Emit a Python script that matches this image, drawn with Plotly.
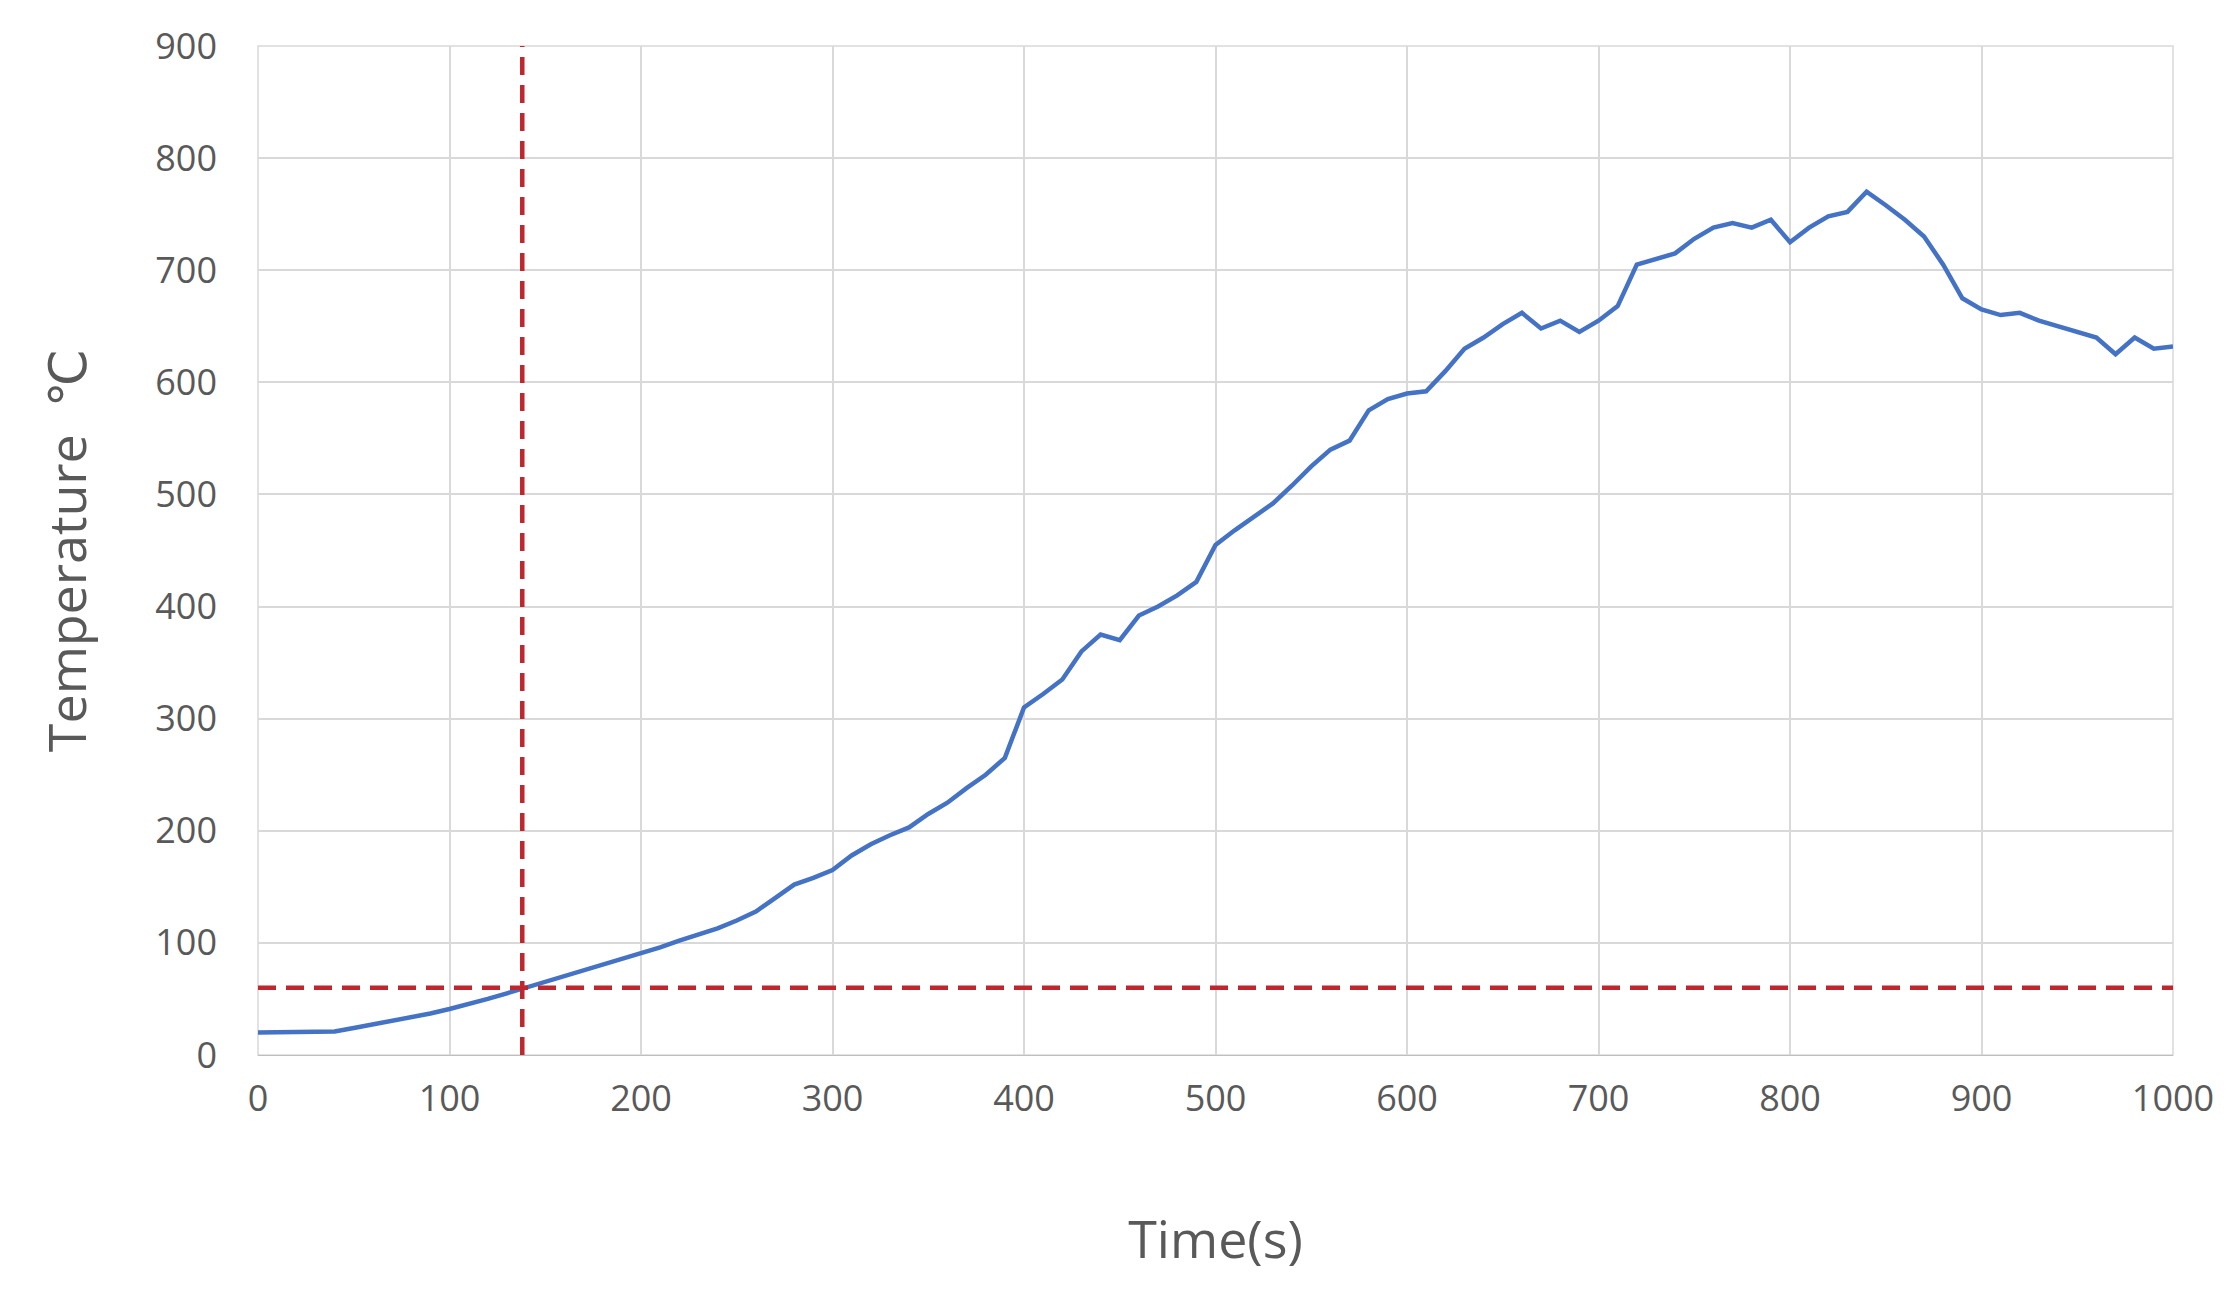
import plotly.graph_objects as go

time_s = list(range(0, 1001, 10))
temperature = [20,20,20,20,21,24,27,30,33,37,41,45,50,55,60,66,71,76,81,86,
               91,96,102,107,113,120,128,140,152,158,165,178,188,196,203,215,225,238,250,265,
               310,322,335,360,375,370,392,400,410,422,455,468,480,492,508,525,540,548,575,585,
               590,592,610,630,640,652,662,648,655,645,655,668,705,710,715,728,738,742,738,745,
               725,738,748,752,770,758,745,730,705,675,665,660,662,655,650,645,640,625,640,630,632]
marker_x = 138
marker_y = 60

fig = go.Figure()
fig.add_trace(go.Scatter(x=time_s, y=temperature, mode="lines",
                         line=dict(color="#4472C4", width=4.5), showlegend=False))
fig.add_shape(type="line", x0=marker_x, x1=marker_x, y0=0, y1=900, xref="x", yref="y",
              line=dict(color="#C0262D", width=4.5, dash="18px,10px"))
fig.add_shape(type="line", x0=0, x1=1000, y0=marker_y, y1=marker_y, xref="x", yref="y",
              line=dict(color="#C0262D", width=4.5, dash="18px,10px"))

font = dict(family="Open Sans, DejaVu Sans", color="#595959")
fig.update_layout(
    width=2226, height=1307, paper_bgcolor="white", plot_bgcolor="white",
    margin=dict(l=250, r=61, t=38, b=260),
    font=font,
    xaxis=dict(range=[0, 1000], dtick=100, showgrid=True, gridcolor="#D9D9D9", gridwidth=1.5,
               tickfont=dict(size=36), ticks="", showline=True, linecolor="#BFBFBF",
               ticklabelstandoff=12,
               title=dict(text="Time(s)", font=dict(size=52), standoff=100), zeroline=False),
    yaxis=dict(range=[0, 900], dtick=100, showgrid=True, gridcolor="#D9D9D9", gridwidth=1.5,
               tickfont=dict(size=36), ticks="", ticklabelstandoff=40, zeroline=False,
               title=dict(text="Temperature  ℃", font=dict(size=52), standoff=52)),
)
fig.add_shape(type="rect", x0=0, x1=1, y0=0, y1=1, xref="paper", yref="paper",
              line=dict(color="#D9D9D9", width=1.5), layer="below")
fig.write_html("out.html")
